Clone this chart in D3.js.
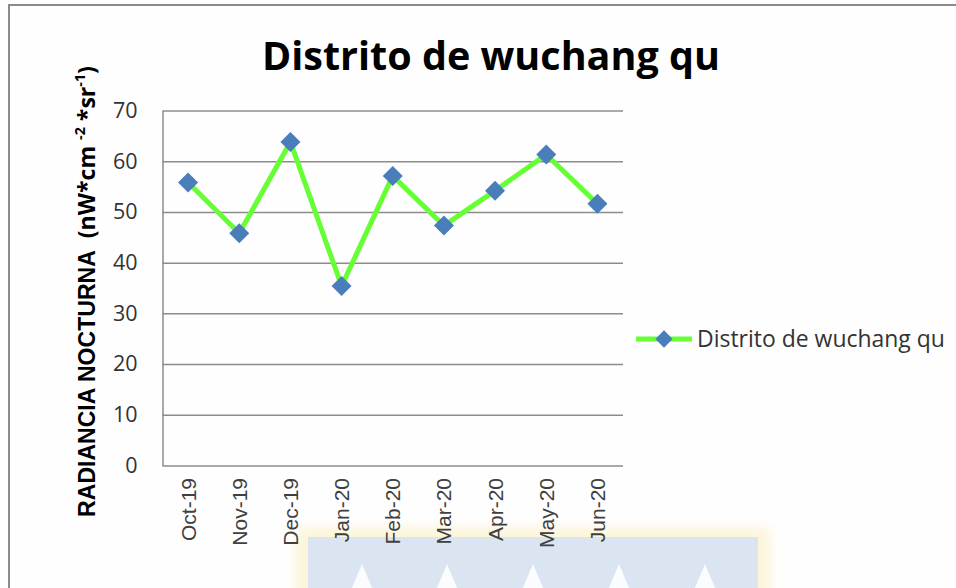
<!DOCTYPE html>
<html>
<head>
<meta charset="utf-8">
<script src="https://cdn.jsdelivr.net/npm/d3@7"></script>
<style>
  body { margin: 0; background: #fff; }
</style>
</head>
<body>
<div id="chart"></div>
<script>
const months = ['Oct-19', 'Nov-19', 'Dec-19', 'Jan-20', 'Feb-20', 'Mar-20', 'Apr-20', 'May-20', 'Jun-20']
const radiance = [55.8, 45.8, 63.8, 35.4, 57.1, 47.3, 54.2, 61.3, 51.6]
const yTicks = [0, 10, 20, 30, 40, 50, 60, 70]
const chartTitle = 'Distrito de wuchang qu'
const seriesName = 'Distrito de wuchang qu'

const width = 956
const height = 588
const plot = { left: 162.5, right: 623, top: 110.5, bottom: 465.5 }
const lineColor = '#66ff33'
const markerColor = '#4a7ebb'
const gridColor = '#8c8c8c'
const calibri = "'Open Sans', 'Noto Sans', sans-serif"
const arial = "'Liberation Sans', Arial, sans-serif"

// scale the font so the text is as wide as in the picture
const fitWidth = (sel, target) => {
    const w = sel.node().getComputedTextLength()
    const size = parseFloat(sel.attr('font-size'))
    sel.attr('font-size', size * target / w)
}

const svg = d3.select('#chart')
    .append('svg')
    .attr('width', width)
    .attr('height', height)

svg.append('rect').attr('width', width).attr('height', height).attr('fill', '#fefefe')

// faint watermark at the bottom
const defs = svg.append('defs')
defs.append('filter').attr('id', 'blur')
    .append('feGaussianBlur').attr('stdDeviation', 6)
const wm = svg.append('g').attr('opacity', 0.8)
wm.append('rect')
    .attr('x', 296).attr('y', 528).attr('width', 474).attr('height', 80)
    .attr('fill', '#fbf2cf').attr('filter', 'url(#blur)')
wm.append('rect')
    .attr('x', 308).attr('y', 537).attr('width', 450).attr('height', 60)
    .attr('fill', '#d3deee')
wm.selectAll('path.spike')
    .data([362, 447, 533, 619, 705])
    .enter()
    .append('path')
    .attr('class', 'spike')
    .attr('d', (d) => `M${d},564 L${d + 11},590 L${d - 11},590 Z`)
    .attr('fill', '#fafcfe')

// outer frame
svg.append('path')
    .attr('d', `M9,${height} V5 H${width}`)
    .attr('fill', 'none')
    .attr('stroke', '#8a8a8a')
    .attr('stroke-width', 2)

const xScale = d3.scaleBand().domain(months).range([plot.left, plot.right])
const yScale = d3.scaleLinear().domain([0, 70]).range([plot.bottom, plot.top])

const yAxis = d3.axisLeft(yScale)
    .tickValues(yTicks)
    .tickSizeInner(-(plot.right - plot.left))
    .tickSizeOuter(0)
    .tickPadding(25)
    .tickFormat(d3.format('d'))

const yG = svg.append('g')
    .attr('transform', `translate(${plot.left}, 0)`)
    .call(yAxis)
yG.selectAll('line').attr('stroke', gridColor).attr('stroke-width', 1.5)
yG.select('.domain').attr('stroke', gridColor).attr('stroke-width', 1.5)
yG.selectAll('text')
    .attr('font-family', calibri)
    .attr('font-size', 21.5)
    .attr('fill', '#333')

const xAxis = d3.axisBottom(xScale).tickSize(0)
const xG = svg.append('g')
    .attr('transform', `translate(0, ${plot.bottom})`)
    .call(xAxis)
xG.select('.domain').remove()
xG.selectAll('text')
    .attr('font-family', arial)
    .attr('font-size', 21)
    .attr('fill', '#404040')
    .attr('text-anchor', 'end')
    .attr('transform', 'rotate(-90)')
    .attr('x', -12.5)
    .attr('y', 0)
    .attr('dy', '0.36em')

const line = d3.line()
    .x((d, i) => xScale(months[i]) + xScale.bandwidth() / 2)
    .y((d) => yScale(d))

svg.append('path')
    .datum(radiance)
    .attr('d', line)
    .attr('fill', 'none')
    .attr('stroke', lineColor)
    .attr('stroke-width', 5)
    .attr('stroke-linejoin', 'round')

const diamond = d3.symbol().type(d3.symbolSquare).size(200)
svg.selectAll('path.marker')
    .data(radiance)
    .enter()
    .append('path')
    .attr('class', 'marker')
    .attr('d', diamond)
    .attr('transform', (d, i) => `translate(${xScale(months[i]) + xScale.bandwidth() / 2}, ${yScale(d)}) rotate(45)`)
    .attr('fill', markerColor)

// title
const title = svg.append('text')
    .attr('x', 491)
    .attr('y', 70)
    .attr('text-anchor', 'middle')
    .attr('font-family', calibri)
    .attr('font-weight', 'bold')
    .attr('font-size', 38)
    .attr('fill', '#000')
    .text(chartTitle)
fitWidth(title, 458)

// y axis title
const yTitle = svg.append('text')
    .attr('transform', 'translate(95, 291.5) rotate(-90)')
    .attr('text-anchor', 'middle')
    .attr('font-weight', 'bold')
    .attr('font-size', 22)
    .attr('fill', '#000')
yTitle.append('tspan').attr('font-family', arial).text('RADIANCIA NOCTURNA')
yTitle.append('tspan').attr('font-family', calibri).text('\u00a0\u00a0(nW*cm\u00a0')
yTitle.append('tspan').attr('font-family', calibri).attr('font-size', '0.62em').attr('dy', '-0.7em').text('-2')
yTitle.append('tspan').attr('font-family', calibri).attr('dy', '0.43em').text('\u00a0*sr')
yTitle.append('tspan').attr('font-family', calibri).attr('font-size', '0.62em').attr('dy', '-0.7em').text('-1')
yTitle.append('tspan').attr('font-family', calibri).attr('dy', '0.43em').text(')')
fitWidth(yTitle, 451)

// legend
const legend = svg.append('g').attr('transform', 'translate(636, 339)')
legend.append('line')
    .attr('x1', 0).attr('x2', 56)
    .attr('stroke', lineColor).attr('stroke-width', 5)
legend.append('path')
    .attr('d', d3.symbol().type(d3.symbolSquare).size(150))
    .attr('transform', 'translate(28, 0) rotate(45)')
    .attr('fill', markerColor)
const legendText = legend.append('text')
    .attr('x', 61)
    .attr('y', 8)
    .attr('font-family', calibri)
    .attr('font-size', 22)
    .attr('fill', '#333')
    .text(seriesName)
fitWidth(legendText, 248)
</script>
</body>
</html>
